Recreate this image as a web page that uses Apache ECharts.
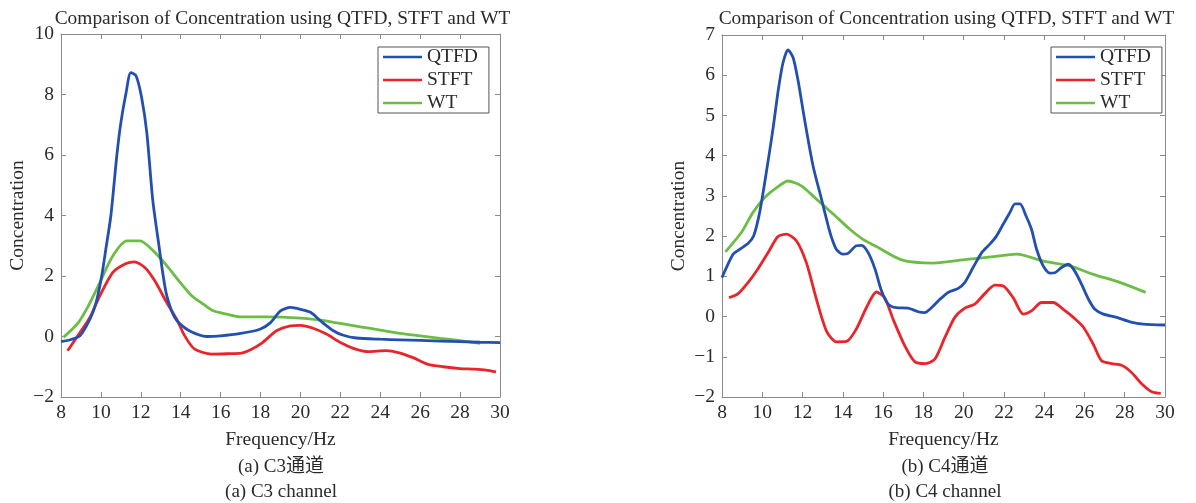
<!DOCTYPE html>
<html><head><meta charset="utf-8">
<script src="https://cdn.jsdelivr.net/npm/echarts@6/dist/echarts.min.js"></script>
<style>html,body{margin:0;padding:0;background:#fff}#c{width:1196px;height:503px}</style>
</head><body><div id="c"></div>
<script>
// ---- Data ----
const c3_qtfd = [[8.0,-0.17],[8.5,-0.1],[8.95,0.02],[9.45,0.57],[9.75,1.1],[10.04,2.0],[10.25,2.9],[10.5,4.0],[10.8,6.0],[11.0,7.07],[11.26,8.05],[11.5,8.72],[11.76,8.62],[12.04,7.9],[12.3,6.74],[12.6,4.5],[12.93,2.9],[13.1,2.1],[13.3,1.35],[13.7,0.63],[14.3,0.24],[14.97,0.04],[15.3,0.0],[16.0,0.02],[17.0,0.1],[17.97,0.24],[18.5,0.46],[19.0,0.85],[19.5,0.96],[20.0,0.9],[20.5,0.8],[21.0,0.52],[21.65,0.19],[22.15,0.04],[22.8,-0.05],[24.0,-0.09],[25.0,-0.11],[27.0,-0.15],[29.0,-0.19],[30.0,-0.2]];
const c3_stft = [[8.33,-0.47],[8.95,0.13],[9.45,0.63],[9.95,1.35],[10.6,2.12],[11.26,2.41],[11.68,2.47],[12.2,2.28],[12.7,1.84],[13.3,1.12],[13.8,0.57],[14.2,0.02],[14.7,-0.42],[15.55,-0.58],[16.3,-0.57],[17.05,-0.55],[17.55,-0.42],[18.1,-0.2],[18.8,0.19],[19.5,0.35],[20.0,0.37],[20.6,0.28],[21.3,0.08],[22.0,-0.2],[22.65,-0.39],[23.4,-0.5],[24.3,-0.47],[24.9,-0.53],[25.65,-0.7],[26.4,-0.92],[27.15,-1.0],[28.0,-1.06],[28.7,-1.08],[29.3,-1.11],[29.8,-1.17]];
const c3_wt = [[8.12,-0.03],[8.87,0.46],[9.37,1.01],[9.95,1.79],[10.6,2.67],[11.3,3.16],[11.96,3.16],[12.63,2.83],[13.3,2.34],[13.97,1.79],[14.55,1.35],[15.13,1.07],[15.63,0.85],[16.3,0.74],[16.97,0.65],[18.3,0.65],[20.0,0.61],[21.0,0.54],[22.0,0.43],[23.0,0.32],[24.0,0.21],[25.0,0.1],[26.0,0.02],[27.0,-0.06],[28.0,-0.14],[29.0,-0.23]];
const c4_qtfd = [[8.0,0.97],[8.55,1.55],[8.88,1.67],[9.3,1.82],[9.57,2.0],[9.87,2.59],[10.2,3.58],[10.53,4.66],[10.8,5.65],[11.03,6.31],[11.28,6.63],[11.53,6.44],[11.78,5.86],[12.1,4.9],[12.52,3.75],[12.94,2.92],[13.27,2.26],[13.45,1.95],[13.68,1.67],[14.0,1.55],[14.26,1.57],[14.67,1.76],[14.93,1.77],[15.26,1.59],[15.6,1.18],[15.92,0.64],[16.25,0.31],[16.66,0.22],[17.24,0.21],[17.74,0.12],[18.07,0.1],[18.4,0.22],[18.82,0.43],[19.23,0.6],[19.73,0.7],[20.06,0.85],[20.47,1.22],[20.9,1.59],[21.3,1.8],[21.63,2.0],[21.97,2.3],[22.3,2.59],[22.55,2.8],[22.8,2.8],[23.1,2.5],[23.37,2.17],[23.62,1.68],[23.95,1.26],[24.28,1.08],[24.53,1.09],[24.86,1.22],[25.2,1.3],[25.52,1.13],[25.86,0.8],[26.2,0.43],[26.52,0.18],[26.94,0.06],[27.6,-0.02],[28.26,-0.13],[28.92,-0.19],[30.0,-0.21]];
const c4_stft = [[8.35,0.47],[8.8,0.57],[9.3,0.85],[9.79,1.19],[10.29,1.59],[10.78,1.99],[11.2,2.05],[11.7,1.88],[12.19,1.34],[12.69,0.43],[13.19,-0.36],[13.68,-0.63],[14.18,-0.62],[14.67,-0.31],[15.17,0.22],[15.67,0.61],[16.08,0.47],[16.5,-0.07],[17.08,-0.73],[17.57,-1.12],[18.07,-1.17],[18.57,-1.06],[19.07,-0.52],[19.56,-0.02],[20.06,0.21],[20.56,0.31],[21.05,0.57],[21.55,0.78],[21.97,0.76],[22.46,0.47],[22.96,0.06],[23.37,0.14],[23.87,0.35],[24.45,0.35],[24.95,0.18],[25.45,-0.02],[25.94,-0.26],[26.44,-0.69],[26.85,-1.1],[27.35,-1.17],[27.85,-1.21],[28.34,-1.39],[28.84,-1.67],[29.34,-1.87],[29.79,-1.91]];
const c4_wt = [[8.17,1.61],[8.96,2.09],[9.54,2.59],[10.12,2.96],[10.7,3.2],[11.28,3.37],[11.94,3.25],[12.69,2.92],[13.52,2.55],[14.35,2.17],[15.0,1.92],[15.67,1.74],[16.91,1.41],[18.49,1.33],[20.14,1.42],[21.47,1.49],[22.63,1.55],[23.95,1.38],[25.28,1.26],[26.44,1.05],[27.76,0.85],[29.04,0.6]];
const seriesNames = ['QTFD','STFT','WT'];
const xTicks = {min: 8, max: 30, interval: 2};
const yTicksC3 = {min: -2, max: 10, interval: 2};
const yTicksC4 = {min: -2, max: 7, interval: 1};
const titleText = 'Comparison of Concentration using QTFD, STFT and WT';
const captions = [['(a) C3通道','(a) C3 channel'],['(b) C4通道','(b) C4 channel']];

// ---- Styling ----
const FONT = '"Liberation Serif","Times New Roman","Noto Sans CJK SC",serif';
const TXT = '#2a2a2a';
const AX = '#8a8a8a';
const colors = ['#2350b0','#e8252a','#6cbd45'];
const fmt = v => String(v).replace('-', '\u2212');

const grids = [
  {left: 61, right: 696, top: 34, bottom: 106},
  {left: 722, right: 31, top: 35, bottom: 106}
];
const yTicks = [yTicksC3, yTicksC4];

const xAxes = [], yAxes = [];
grids.forEach((g, i) => {
  xAxes.push({type:'value', gridIndex:i, position:'bottom', min:xTicks.min, max:xTicks.max, interval:xTicks.interval,
    name:'Frequency/Hz', nameLocation:'middle', nameGap:33,
    nameTextStyle:{fontFamily:FONT, fontSize:19.5, color:TXT},
    axisLine:{show:true, onZero:false, lineStyle:{color:AX, width:1}},
    axisTick:{show:true, inside:true, length:5, lineStyle:{color:AX}},
    axisLabel:{fontFamily:FONT, fontSize:19.5, color:TXT, margin:6, formatter:fmt},
    splitLine:{show:false}});
  xAxes.push({type:'value', gridIndex:i, position:'top', min:xTicks.min, max:xTicks.max, interval:xTicks.interval,
    axisLine:{show:true, onZero:false, lineStyle:{color:AX, width:1}},
    axisTick:{show:true, inside:true, length:5, lineStyle:{color:AX}},
    axisLabel:{show:false}, splitLine:{show:false}});
  const yt = yTicks[i];
  yAxes.push({type:'value', gridIndex:i, position:'left', min:yt.min, max:yt.max, interval:yt.interval,
    name:'Concentration', nameLocation:'middle', nameGap:33, nameRotate:90,
    nameTextStyle:{fontFamily:FONT, fontSize:19.5, color:TXT},
    axisLine:{show:true, onZero:false, lineStyle:{color:AX, width:1}},
    axisTick:{show:true, inside:true, length:5, lineStyle:{color:AX}},
    axisLabel:{fontFamily:FONT, fontSize:19.5, color:TXT, margin:7, formatter:fmt},
    splitLine:{show:false}});
  yAxes.push({type:'value', gridIndex:i, position:'right', min:yt.min, max:yt.max, interval:yt.interval,
    axisLine:{show:true, onZero:false, lineStyle:{color:AX, width:1}},
    axisTick:{show:true, inside:true, length:5, lineStyle:{color:AX}},
    axisLabel:{show:false}, splitLine:{show:false}});
});

const dataSets = [[c3_qtfd, c3_stft, c3_wt],[c4_qtfd, c4_stft, c4_wt]];
const series = [];
dataSets.forEach((ds, gi) => {
  ds.forEach((d, si) => {
    series.push({type:'line', name:seriesNames[si], xAxisIndex:gi*2, yAxisIndex:gi*2, data:d,
      showSymbol:false, symbol:'none', smooth:0.25, clip:true, z:5-si,
      lineStyle:{color:colors[si], width:2.8}, itemStyle:{color:colors[si]}});
  });
});

const legendCommon = {orient:'vertical', icon:'rect', itemWidth:39, itemHeight:2.5, itemGap:3,
  padding:[0,11,0,5], borderColor:'#555', borderWidth:1, backgroundColor:'#fff',
  textStyle:{fontFamily:FONT, fontSize:19.5, color:TXT, lineHeight:20}, data:seriesNames, selectedMode:false};

const capCenters = [276, 940];
const titleCenters = [277.5, 941.5];
const tStyle = (fs) => ({fontFamily:FONT, fontSize:fs, fontWeight:'normal', color:TXT});

const option = {
  animation:false,
  backgroundColor:'#fff',
  title:[
    {text:titleText, left:titleCenters[0], top:4, textAlign:'center', textStyle:tStyle(19.4)},
    {text:titleText, left:titleCenters[1], top:4, textAlign:'center', textStyle:tStyle(19.4)},
    {text:captions[0][0], left:capCenters[0], top:453, textAlign:'center', textStyle:tStyle(19)},
    {text:captions[0][1], left:capCenters[0], top:478, textAlign:'center', textStyle:tStyle(19)},
    {text:captions[1][0], left:capCenters[1], top:453, textAlign:'center', textStyle:tStyle(19)},
    {text:captions[1][1], left:capCenters[1], top:478, textAlign:'center', textStyle:tStyle(19)}
  ],
  legend:[
    Object.assign({}, legendCommon, {left:378, top:47}),
    Object.assign({}, legendCommon, {left:1051, top:47})
  ],
  grid:grids,
  xAxis:xAxes,
  yAxis:yAxes,
  series:series
};
const chart = echarts.init(document.getElementById('c'), null, {renderer:'canvas'});
chart.setOption(option);
</script></body></html>
